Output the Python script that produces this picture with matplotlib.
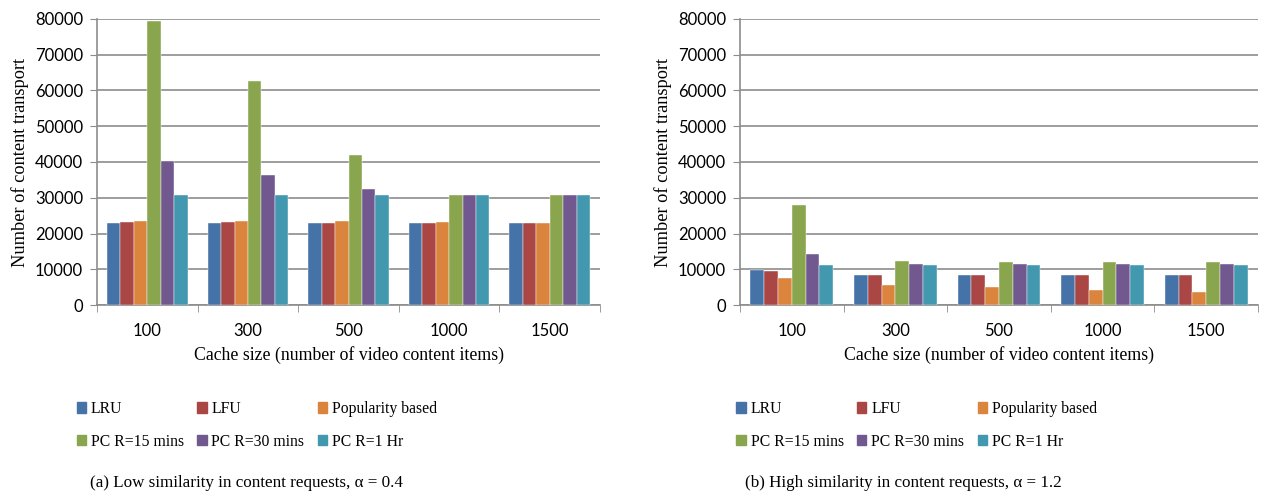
import numpy as np
import matplotlib.pyplot as plt
from matplotlib.patches import Patch

cache_sizes = ['100', '300', '500', '1000', '1500']
series_names = ['LRU', 'LFU', 'Popularity based', 'PC R=15 mins', 'PC R=30 mins', 'PC R=1 Hr']
colors = ['#4572A7', '#AA4643', '#DB843D', '#89A54E', '#71588F', '#4198AF']

# (a) low similarity, alpha = 0.4
low_lru = [23000, 23000, 23000, 23000, 23000]
low_lfu = [23200, 23100, 23000, 23000, 23000]
low_pop = [23600, 23400, 23400, 23200, 23000]
low_pc15 = [79500, 62600, 42000, 30800, 30800]
low_pc30 = [40200, 36400, 32400, 30800, 30800]
low_pc1h = [30800, 30700, 30700, 30800, 30800]

# (b) high similarity, alpha = 1.2
high_lru = [9900, 8300, 8300, 8300, 8300]
high_lfu = [9500, 8300, 8300, 8300, 8300]
high_pop = [7500, 5600, 5000, 4100, 3600]
high_pc15 = [28100, 12400, 12100, 12100, 12100]
high_pc30 = [14400, 11400, 11400, 11400, 11400]
high_pc1h = [11200, 11100, 11100, 11100, 11100]

low = [low_lru, low_lfu, low_pop, low_pc15, low_pc30, low_pc1h]
high = [high_lru, high_lfu, high_pop, high_pc15, high_pc30, high_pc1h]

serif = 'Liberation Serif'
sans = 'Lato'
grid_c = '#8c8c8c'


def draw_panel(ax, data):
    x = np.arange(len(cache_sizes))
    w = 0.8 / len(data)
    for i, vals in enumerate(data):
        ax.bar(x - 0.4 + w * (i + 0.5), vals, width=w, color=colors[i],
               edgecolor='white', linewidth=0.3, zorder=3)
    ax.set_xlim(-0.5, len(cache_sizes) - 0.5)
    ax.set_ylim(0, 80000)
    ax.set_yticks(np.arange(0, 80001, 10000))
    ax.set_yticklabels([str(v) for v in range(0, 80001, 10000)], fontfamily=sans, fontsize=12)
    ax.set_xticks(x)
    ax.set_xticklabels(cache_sizes, fontfamily=sans, fontsize=12)
    ax.set_xticks(np.arange(-0.5, len(cache_sizes)), minor=True)
    ax.tick_params(axis='x', which='major', length=0, pad=13)
    ax.tick_params(axis='x', which='minor', length=5, color=grid_c, direction='out')
    ax.tick_params(axis='y', length=5, color=grid_c, direction='out', pad=5)
    ax.yaxis.grid(True, color=grid_c, linewidth=1.2, zorder=0)
    for s in ['top', 'right']:
        ax.spines[s].set_visible(False)
    for s in ['left', 'bottom']:
        ax.spines[s].set_color(grid_c)
        ax.spines[s].set_linewidth(1.2)
    ax.set_axisbelow(True)
    ax.set_xlabel('Cache size (number of video content items)', fontfamily=serif, fontsize=12.8, labelpad=5)
    ax.set_ylabel('Number of content transport', fontfamily=serif, fontsize=13.2, labelpad=4)


fig = plt.figure(figsize=(12.65, 4.97), dpi=100)
ax1 = fig.add_axes([0.0767, 0.3863, 0.3976, 0.5755])
ax2 = fig.add_axes([0.585, 0.3863, 0.4095, 0.5755])
draw_panel(ax1, low)
draw_panel(ax2, high)

# reorder so that the 3-column legend fills row by row
order = [0, 3, 1, 4, 2, 5]
handles = [Patch(color=colors[i]) for i in order]
labels = [series_names[i] for i in order]
for xa in [0.0605, 0.5822]:
    fig.legend(handles, labels, ncol=3, loc='upper left', bbox_to_anchor=(xa, 0.193),
               bbox_transform=fig.transFigure,
               frameon=False, prop={'family': serif, 'size': 11.3}, handlelength=0.6,
               handleheight=0.65, handletextpad=0.3, columnspacing=0.85, labelspacing=1.05,
               borderaxespad=0, borderpad=0)

fig.text(0.071, 0.02, '(a) Low similarity in content requests, \u03b1 = 0.4', fontfamily=serif, fontsize=12.25)
fig.text(0.589, 0.02, '(b) High similarity in content requests, \u03b1 = 1.2', fontfamily=serif, fontsize=12.25)

fig.savefig('out.png', dpi=100)
